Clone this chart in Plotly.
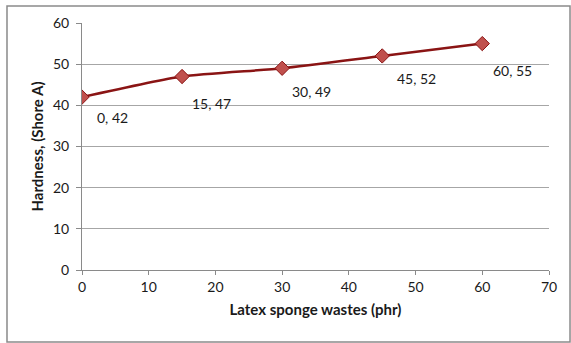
import plotly.graph_objects as go

# Hardness versus latex sponge waste loading
loading_phr = [0, 15, 30, 45, 60]
hardness_shore_a = [42, 47, 49, 52, 55]
x_ticks = [0, 10, 20, 30, 40, 50, 60, 70]
y_ticks = [0, 10, 20, 30, 40, 50, 60]

# pixel offsets of each "x, y" data label from its point
label_dx = [13, 8, 8, 13, 9]
label_dy = [-10, -16, -13, -12, -16]

FONT = "Lato"

fig = go.Figure()
fig.add_trace(go.Scatter(
    x=loading_phr,
    y=hardness_shore_a,
    mode="lines+markers",
    line=dict(color="#8a1414", width=2.5, shape="spline", smoothing=0.6),
    marker=dict(symbol="diamond", size=11, color="#c0504d",
                line=dict(color="#8a1414", width=1)),
    showlegend=False,
    hoverinfo="skip",
))

for x, y, dx, dy in zip(loading_phr, hardness_shore_a, label_dx, label_dy):
    fig.add_annotation(
        x=x, y=y, text=f"{x}, {y}", showarrow=False,
        xanchor="left", yanchor="top", xshift=dx, yshift=dy,
        font=dict(family=FONT, size=14, color="#1a1a1a"),
    )

# outer chart border
fig.add_shape(type="rect", xref="paper", yref="paper",
              x0=-0.1606, x1=1.045, y0=-0.2915, y1=1.069,
              line=dict(color="#8a8a8a", width=1.5), layer="below")

fig.update_layout(
    width=571, height=343,
    margin=dict(l=82, r=22, t=23, b=73),
    paper_bgcolor="white",
    plot_bgcolor="white",
    font=dict(family=FONT, size=14, color="#1a1a1a"),
    xaxis=dict(
        range=[0, 70], tickvals=x_ticks, showgrid=False, zeroline=False,
        showline=True, linecolor="#8a8a8a", linewidth=1,
        ticks="outside", ticklen=4, tickcolor="#8a8a8a",
        tickfont=dict(family=FONT, size=14),
        title=dict(text="<b>Latex sponge wastes (phr)</b>",
                   font=dict(family=FONT, size=15), standoff=10),
    ),
    yaxis=dict(
        range=[0, 60], tickvals=y_ticks, showgrid=True,
        gridcolor="#a6a6a6", gridwidth=1, zeroline=False,
        showline=True, linecolor="#8a8a8a", linewidth=1,
        ticks="outside", ticklen=5, tickcolor="#8a8a8a",
        ticklabelstandoff=4,
        tickfont=dict(family=FONT, size=14),
        title=dict(text="<b>Hardness, (Shore A)</b>",
                   font=dict(family=FONT, size=15), standoff=5),
    ),
)

fig.write_html("out.html")
